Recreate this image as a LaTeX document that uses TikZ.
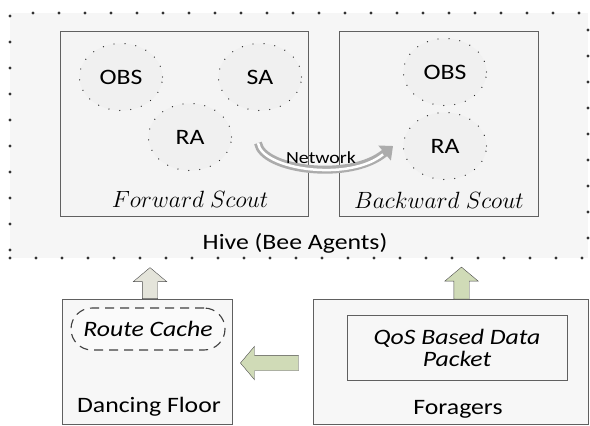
\documentclass[tikz,border=0pt]{standalone}
\usepackage{fix-cm}
\usepackage{fontspec}
\setmainfont{Carlito}[FakeStretch=1.17]
\usetikzlibrary{arrows.meta,positioning,shapes.geometric,shapes.arrows,calc}
\definecolor{sage}{HTML}{D0DBB7}
\definecolor{stone}{HTML}{E4E4DA}

\begin{document}
\begin{tikzpicture}[x=1pt, y=-1pt,
  hive/.style={draw=gray!40!black, line width=3.2pt, dash pattern=on 0pt off 26pt, line cap=round, fill=gray!7, minimum width=578pt, minimum height=245pt, inner sep=0pt},
  scout/.style={draw=gray!75!black, fill=gray!9, minimum width=#1, minimum height=185pt, inner sep=0pt},
  agent/.style={ellipse, draw=gray!30!black, line width=1.3pt, dash pattern=on 0pt off 11pt, line cap=round, fill=gray!12, minimum width=83pt, minimum height=67pt, font=\fontsize{22}{24}\selectfont},
  box/.style={draw=gray!75!black, fill=gray!6, minimum width=#1, minimum height=125pt, inner sep=0pt},
  data/.style={font=\fontsize{22}{24}\selectfont},
  title/.style={font=\fontsize{23.5}{26}\selectfont},
  blockarrow/.style={single arrow, draw=gray!60!black, fill=#1, minimum width=33pt, single arrow head extend=9pt, single arrow tip angle=100, inner sep=7.5pt},
  net/.style={line width=8pt, gray!65, -{Triangle[width=19pt, length=11pt]}}
]
  \useasboundingbox (0,0) rectangle (590,426);

  % Hive
  \node[hive] (hive) at (299,135.5) {};
  \node[data] (hivelbl) at (295,243) {Hive (Bee Agents)};

  % Forward scout
  \node[scout=248pt] (fwd) at (184,123.5) {};
  \node[agent] (fobs) at (121,77) {OBS};
  \node[agent] (fsa) at (260,77) {SA};
  \node[agent] (fra) at (190,137) {RA};
  \node[title] (fwdlbl) at (190,199) {$Forward\ Scout$};

  % Backward scout
  \node[scout=199pt] (bwd) at (438.5,123.5) {};
  \node[agent] (bobs) at (445,72) {OBS};
  \node[agent] (bra) at (445,146) {RA};
  \node[title] (bwdlbl) at (439,200) {$Backward\ Scout$};

  % Network
  \coordinate (netA) at (258,143);
  \coordinate (netB) at (393,146);
  \draw[net] (netA) .. controls (262,170) and (350,182) .. (netB);
  \draw[line width=2.5pt, white, shorten >=13pt] (netA) .. controls (262,170) and (350,182) .. (netB);
  \node[font=\fontsize{17}{19}\selectfont] (netlbl) at (321,158) {Network};

  % Dancing floor
  \node[box=170pt] (floor) at (147,361.5) {};
  \node[draw=gray!50!black, dash pattern=on 9pt off 6pt, line width=1.1pt, rounded corners=21pt, fill=gray!4, minimum width=154pt, minimum height=42pt, font=\fontsize{22}{24}\selectfont\itshape] (cache) at (148,329) {Route Cache};
  \node[data] (floorlbl) at (149,407) {Dancing Floor};

  % Foragers
  \node[box=275pt] (forag) at (450.5,362) {};
  \node[draw=gray!75!black, fill=gray!6, minimum width=220pt, minimum height=65pt, align=center, font=\fontsize{22}{22}\selectfont\itshape] (qos) at (457,347.5) {QoS Based Data\\Packet};
  \node[data] (foraglbl) at (458,409) {Foragers};

  % Arrows
  \node[blockarrow=stone, shape border rotate=90, minimum height=31pt, anchor=tail] (up1) at ($(floor.north)+(3,0)$) {};
  \node[blockarrow=sage, shape border rotate=90, minimum height=32pt, anchor=tail] (up2) at ($(forag.north)+(11,0)$) {};
  \node[blockarrow=sage, shape border rotate=180, minimum height=58pt, anchor=tip] (left) at ($(floor.east)+(8,1.5)$) {};
\end{tikzpicture}
\end{document}
